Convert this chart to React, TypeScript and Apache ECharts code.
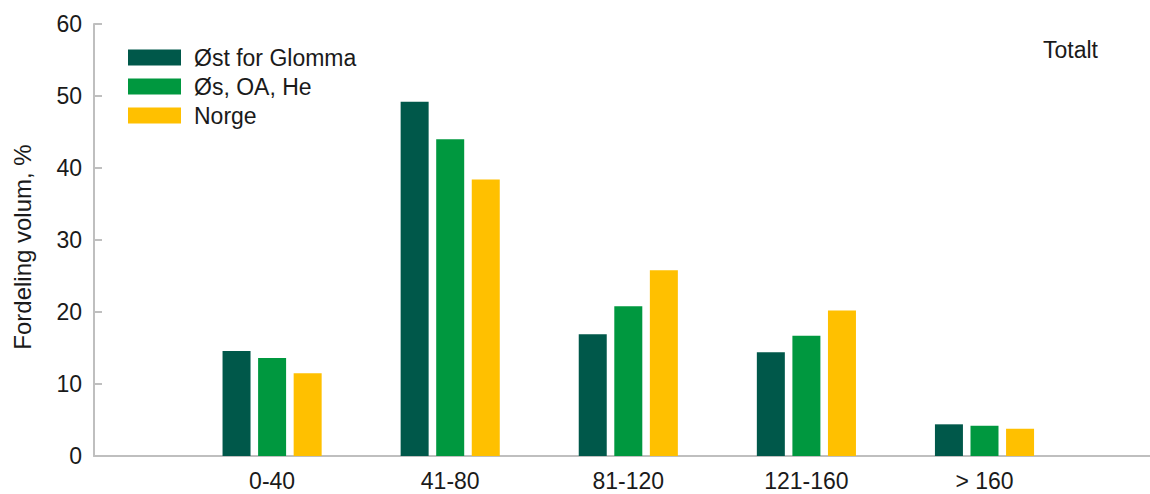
import React, { useEffect, useRef } from "react";
import * as echarts from "echarts";

const categories = ["", "0-40", "41-80", "81-120", "121-160", "> 160", ""];
const seriesNames = ["Øst for Glomma", "Øs, OA, He", "Norge"];
const ostForGlomma = [null, 14.6, 49.2, 16.9, 14.4, 4.4, null];
const osOaHe = [null, 13.6, 44.0, 20.8, 16.7, 4.2, null];
const norge = [null, 11.5, 38.4, 25.8, 20.2, 3.8, null];
const yTicks = { min: 0, max: 60, interval: 10 };
const colors = ["#00584A", "#00983F", "#FFC000"];
const yTitle = "Fordeling volum, %";
const panelTitle = "Totalt";

const FONT = "'Liberation Sans', Arial, sans-serif";

export default function App() {
  const ref = useRef<HTMLDivElement>(null);
  useEffect(() => {
    document.body.style.margin = "0";
    if (!ref.current) return;
    const chart = echarts.init(ref.current, undefined, { renderer: "svg" });
    const values = [ostForGlomma, osOaHe, norge];
    chart.setOption({
      animation: false,
      textStyle: { fontFamily: FONT },
      grid: { left: 94, top: 24, bottom: 38, right: -12.6, containLabel: false, outerBoundsMode: "none" },
      legend: {
        orient: "vertical",
        left: 128,
        top: 46,
        padding: 0,
        itemWidth: 53,
        itemHeight: 16,
        itemGap: 6,
        icon: "rect",
        data: seriesNames,
        textStyle: { fontSize: 23, color: "#1a1a1a", fontFamily: FONT, lineHeight: 22, padding: [0, 0, 0, 8] },
      },
      graphic: [
        {
          type: "text",
          left: 1043,
          top: 38,
          style: { text: panelTitle, fontSize: 23, fill: "#1a1a1a", fontFamily: FONT },
        },
        {
          type: "text",
          x: 22,
          y: 247,
          rotation: Math.PI / 2,
          style: {
            text: yTitle,
            fontSize: 24,
            fill: "#1a1a1a",
            fontFamily: FONT,
            align: "center",
            verticalAlign: "middle",
          },
        },
      ],
      xAxis: {
        type: "category",
        data: categories,
        boundaryGap: false,
        axisLine: { show: true, lineStyle: { color: "#BFBFBF", width: 2 } },
        axisTick: { show: false },
        axisLabel: { interval: 0, fontSize: 23, color: "#1a1a1a", margin: 13, fontFamily: FONT },
        splitLine: { show: false },
      },
      yAxis: {
        type: "value",
        min: yTicks.min,
        max: yTicks.max,
        interval: yTicks.interval,
        axisLine: { show: true, lineStyle: { color: "#BFBFBF", width: 2 } },
        axisTick: { show: true, inside: true, length: 8, lineStyle: { color: "#BFBFBF", width: 2 } },
        axisLabel: { fontSize: 23, color: "#1a1a1a", margin: 12, fontFamily: FONT },
        splitLine: { show: false },
      },
      series: seriesNames.map((name, i) => ({
        name,
        type: "bar",
        data: values[i],
        barWidth: 28,
        barGap: "27%",
        itemStyle: { color: colors[i] },
      })),
    });
    return () => chart.dispose();
  }, []);
  return (
    <div style={{ width: 1150, height: 494, overflow: "hidden", position: "relative" }}>
      <div ref={ref} style={{ width: 1150, height: 494 }} />
    </div>
  );
}
